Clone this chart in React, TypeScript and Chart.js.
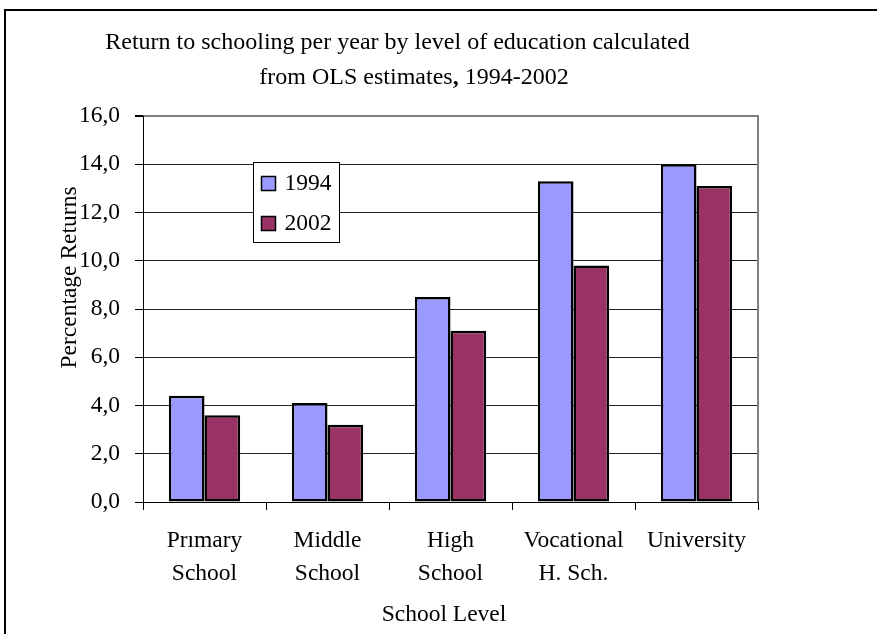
import React, { useEffect, useRef } from "react";
import { Chart, registerables } from "chart.js";

Chart.register(...registerables);

// Chart data
const categories: string[][] = [
  ["Prımary", "School"],
  ["Middle", "School"],
  ["High", "School"],
  ["Vocational", "H. Sch."],
  ["University"],
];
const seriesLabels = ["1994", "2002"];
const returns1994 = [4.4, 4.1, 8.5, 13.3, 14.0];
const returns2002 = [3.6, 3.2, 7.1, 9.8, 13.1];
const yTicks = [0, 2, 4, 6, 8, 10, 12, 14, 16];

const titleLine1 = "Return to schooling per year by level of education calculated";
const titleLine2a = "from OLS estimates";
const titleLine2b = ",";
const titleLine2c = " 1994-2002";
const yAxisTitle = "Percentage Returns";
const xAxisTitle = "School Level";

const FONT = "'Liberation Serif', 'Times New Roman', serif";
const COLOR_1994 = "#9999FF";
const COLOR_2002 = "#993366";

const W = 877;
const H = 634;

// Frame, titles and the legend drawn around the bars
const decorations = {
  id: "decorations",
  beforeDraw(chart: any) {
    const { ctx } = chart;
    ctx.save();
    ctx.fillStyle = "#fff";
    ctx.fillRect(0, 0, W, H);
    ctx.strokeStyle = "#000";
    ctx.lineWidth = 2;
    ctx.strokeRect(5, 10, W + 20, H + 20);
    ctx.restore();
  },
  afterDraw(chart: any) {
    const { ctx, chartArea } = chart;
    const { left, right, top, bottom } = chartArea;
    ctx.save();

    // plot area border (top + right)
    ctx.strokeStyle = "#808080";
    ctx.lineWidth = 2;
    ctx.beginPath();
    ctx.moveTo(left, top);
    ctx.lineTo(right, top);
    ctx.lineTo(right, bottom);
    ctx.stroke();

    // re-draw the value axis line on top
    ctx.strokeStyle = "#000";
    ctx.lineWidth = 1;
    ctx.beginPath();
    ctx.moveTo(left + 0.5, top);
    ctx.lineTo(left + 0.5, bottom);
    ctx.stroke();

    ctx.fillStyle = "#000";
    ctx.textBaseline = "alphabetic";

    // title
    ctx.font = `24px ${FONT}`;
    ctx.textAlign = "center";
    ctx.fillText(titleLine1, 397.5, 49.3);
    ctx.textAlign = "left";
    const wA = ctx.measureText(titleLine2a).width;
    ctx.font = `bold 24px ${FONT}`;
    const wB = ctx.measureText(titleLine2b).width;
    ctx.font = `24px ${FONT}`;
    const wC = ctx.measureText(titleLine2c).width;
    let x = 414 - (wA + wB + wC) / 2;
    ctx.fillText(titleLine2a, x, 84.3);
    x += wA;
    ctx.font = `bold 24px ${FONT}`;
    ctx.fillText(titleLine2b, x, 84.3);
    x += wB;
    ctx.font = `24px ${FONT}`;
    ctx.fillText(titleLine2c, x, 84.3);

    // axis titles
    ctx.font = `23.5px ${FONT}`;
    ctx.textAlign = "center";
    ctx.fillText(xAxisTitle, 444, 620.7);
    ctx.save();
    ctx.translate(76, 277.5);
    ctx.rotate(-Math.PI / 2);
    ctx.fillText(yAxisTitle, 0, 0);
    ctx.restore();

    // legend
    const lx = left + 110.5;
    const ly = top + 46.5;
    const lw = 86;
    const lh = 80;
    ctx.fillStyle = "#fff";
    ctx.fillRect(lx, ly, lw, lh);
    ctx.strokeStyle = "#000";
    ctx.lineWidth = 1;
    ctx.strokeRect(lx, ly, lw, lh);
    chart.data.datasets.forEach((ds: any, i: number) => {
      const cy = ly + 21 + i * 40;
      ctx.fillStyle = ds.backgroundColor;
      ctx.fillRect(lx + 8, cy - 7, 14, 14);
      ctx.strokeStyle = "#000";
      ctx.lineWidth = 1.5;
      ctx.strokeRect(lx + 8, cy - 7, 14, 14);
      ctx.fillStyle = "#000";
      ctx.font = `23.5px ${FONT}`;
      ctx.textAlign = "left";
      ctx.textBaseline = "middle";
      ctx.fillText(ds.label, lx + 31, cy);
    });

    ctx.restore();
  },
};

export default function App() {
  const canvasRef = useRef<HTMLCanvasElement | null>(null);

  useEffect(() => {
    const canvas = canvasRef.current;
    if (!canvas) return;
    const chart = new Chart(canvas, {
      type: "bar",
      data: {
        labels: categories,
        datasets: [
          {
            label: seriesLabels[0],
            data: returns1994,
            backgroundColor: COLOR_1994,
            borderColor: "#000",
            borderWidth: 2.5,
            borderSkipped: false,
          },
          {
            label: seriesLabels[1],
            data: returns2002,
            backgroundColor: COLOR_2002,
            borderColor: "#000",
            borderWidth: 2.5,
            borderSkipped: false,
          },
        ],
      },
      options: {
        responsive: false,
        animation: false,
        devicePixelRatio: 1,
        layout: { padding: { left: 0, right: 119, top: 116, bottom: 0 } },
        datasets: { bar: { categoryPercentage: 0.58, barPercentage: 1.0 } },
        plugins: {
          legend: { display: false },
          title: { display: false },
          tooltip: { enabled: false },
        },
        scales: {
          x: {
            offset: true,
            afterFit(scale: any) {
              scale.height = 132;
            },
            grid: {
              offset: true,
              drawOnChartArea: false,
              drawTicks: true,
              tickLength: 8,
              color: "#000",
              lineWidth: 1,
            },
            border: { display: true, color: "#000", width: 1 },
            ticks: {
              color: "#000",
              padding: 13.7,
              maxRotation: 0,
              autoSkip: false,
              font: { family: FONT, size: 23.5, lineHeight: 1.42 },
            },
          },
          y: {
            min: 0,
            max: 16,
            afterFit(scale: any) {
              scale.width = 143;
            },
            afterBuildTicks(scale: any) {
              scale.ticks = yTicks.map((v) => ({ value: v }));
            },
            grid: {
              drawTicks: true,
              tickLength: 8,
              tickColor: "#000",
              color: (c: any) => (c.tick && c.tick.value === 16 ? "#808080" : "#222"),
              lineWidth: (c: any) => (c.tick && c.tick.value === 16 ? 2 : 1),
            },
            border: { display: true, color: "#000", width: 1 },
            ticks: {
              color: "#000",
              padding: 15,
              font: { family: FONT, size: 23.5 },
              callback: (v: any) => Number(v).toFixed(1).replace(".", ","),
            },
          },
        },
      },
      plugins: [decorations],
    });
    return () => chart.destroy();
  }, []);

  return (
    <div style={{ position: "fixed", left: 0, top: 0, width: W, height: H, background: "#fff" }}>
      <canvas ref={canvasRef} width={W} height={H} style={{ display: "block" }} />
    </div>
  );
}
